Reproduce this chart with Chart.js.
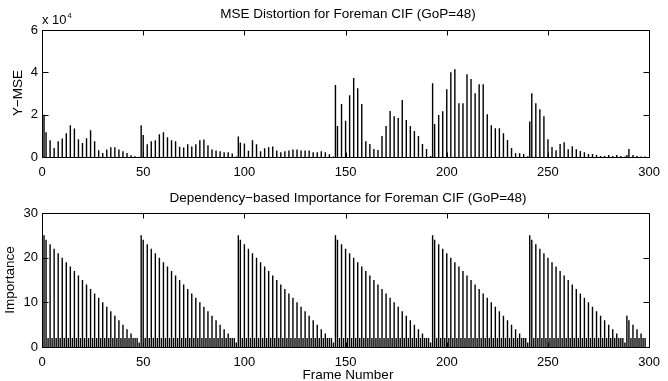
<!DOCTYPE html>
<html>
<head>
<meta charset="utf-8">
<script src="https://cdn.jsdelivr.net/npm/chart.js@4.4.0/dist/chart.umd.min.js"></script>
<style>
  body { margin: 0; background: #fff; }
  #wrap { position: relative; width: 668px; height: 381px; overflow: hidden;
          font-family: "Liberation Sans", Arial, Helvetica, sans-serif; color: #000; }
  canvas { position: absolute; left: 0; }
  .lbl { position: absolute; white-space: nowrap; line-height: 1; font-size: 13.5px;
         transform: translate(-50%, -50%); }
  .rot { transform: translate(-50%, -50%) rotate(-90deg); }
</style>
</head>
<body>
<div id="wrap">
  <canvas id="mse" width="668" height="185" style="top:0;width:668px;height:185px"></canvas>
  <canvas id="imp" width="668" height="196" style="top:185px;width:668px;height:196px"></canvas>

  <div class="lbl" style="left:348px;top:14px">MSE Distortion for Foreman CIF (GoP=48)</div>
  <div class="lbl" style="left:348px;top:198px">Dependency&minus;based Importance for Foreman CIF (GoP=48)</div>
  <div class="lbl" style="left:348px;top:375px">Frame Number</div>
  <div class="lbl rot" style="left:18px;top:93px">Y&minus;MSE</div>
  <div class="lbl rot" style="left:10px;top:280px">Importance</div>
  <div style="position:absolute;left:42px;top:13px;font-size:13px;line-height:1">x 10<span style="font-size:7.5px;position:relative;top:-6px;left:1px">4</span></div>
</div>

<script>
// frame axis
const frameTicks = [0, 50, 100, 150, 200, 250, 300];
const lastFrame = 298;

// first frame of every group of pictures (I frames)
const gopStarts = [1, 49, 97, 145, 193, 241, 289];

// Y-MSE of the I frames, same order as gopStarts
const mseI = [20000, 15000, 9700, 34000, 34900, 16800, 900];

// Y-MSE of the P frames 2, 4, 6 ... 298
const mseP = [
  11700, 7900, 4300, 7400, 8700, 11200, 15000, 13500, 8400, 6600, 8800, 12600,
  7400, 3200, 1900, 3600, 4600, 4600, 3600, 2700, 1900, 800, 400, 100,
  10400, 6000, 7400, 7900, 10700, 11700, 9300, 7900, 7400, 4900, 4500, 6000,
  5000, 6000, 7900, 8300, 5500, 3600, 3100, 2700, 2200, 2200, 1700, 200,
  6900, 6400, 3000, 7900, 6000, 2700, 4100, 4600, 5000, 3100, 2200, 2700,
  3100, 3600, 3600, 3100, 3100, 3100, 2200, 2200, 2700, 2200, 1300, 200,
  14600, 25000, 17100, 29200, 37300, 32500, 25000, 7500, 6100, 3800, 3300, 9900,
  14600, 21700, 19300, 18400, 26900, 17500, 14600, 12300, 9900, 6100, 3800, 500,
  15600, 19800, 21600, 32000, 40000, 41500, 25400, 25400, 39100, 36800, 30100, 34400,
  34400, 20200, 15000, 13600, 13600, 11200, 8000, 4200, 1800, 1800, 1400, 300,
  30100, 25400, 22600, 19300, 8400, 4700, 3200, 6100, 7000, 3700, 5100, 3700,
  2800, 2300, 1400, 1400, 900, 500, 500, 900, 500, 900, 500, 200,
  3800, 900, 500, 200, 200
];
const mseTicks = [0, 20000, 40000, 60000];

// dependency count: I frame, P frames in order, B frames
const impI = 25;
const impP = [24, 23, 22, 21, 20, 19, 18, 17, 16, 15, 14, 13,
              12, 11, 10, 9, 8, 7, 6, 5, 4, 3, 2, 1];
const impB = 2;
// the last, shorter group
const impLastI = 7;
const impLastP = [6, 5, 4, 3, 2];
const impTicks = [0, 10, 20, 30];

const mseData = [];
gopStarts.forEach((f, i) => mseData.push({ x: f, y: mseI[i] }));
mseP.forEach((v, i) => mseData.push({ x: 2 + i * 2, y: v }));
mseData.sort((a, b) => a.x - b.x);

const impData = [];
gopStarts.forEach((start, g) => {
  const last = g === gopStarts.length - 1;
  const pVals = last ? impLastP : impP;
  impData.push({ x: start, y: last ? impLastI : impI });
  pVals.forEach((v, k) => {
    const f = start + 1 + k * 2;
    if (f <= lastFrame) impData.push({ x: f, y: v });
    if (f + 1 <= lastFrame && (k < pVals.length - 1)) impData.push({ x: f + 1, y: impB });
  });
});

const font = { family: 'Liberation Sans', size: 13 };

// matlab style frame: full box with inward ticks on every side
const boxTicks = {
  id: 'boxTicks',
  afterDatasetsDraw(chart) {
    const { ctx, chartArea: a, scales: { x, y } } = chart;
    const l = Math.round(a.left) + 0.5, r = Math.round(a.right) + 0.5;
    const t = Math.round(a.top) + 0.5, b = Math.round(a.bottom) + 0.5;
    ctx.save();
    ctx.strokeStyle = '#000';
    ctx.lineWidth = 1;
    ctx.beginPath();
    ctx.rect(l, t, r - l, b - t);
    x.ticks.forEach(tk => {
      const px = Math.round(x.getPixelForValue(tk.value)) + 0.5;
      ctx.moveTo(px, t); ctx.lineTo(px, t + 5);
      ctx.moveTo(px, b); ctx.lineTo(px, b - 5);
    });
    y.ticks.forEach(tk => {
      const py = Math.round(y.getPixelForValue(tk.value)) + 0.5;
      ctx.moveTo(l, py); ctx.lineTo(l + 6, py);
      ctx.moveTo(r, py); ctx.lineTo(r - 6, py);
    });
    ctx.stroke();
    ctx.restore();
  }
};

const stemChart = (id, data, yMax, yTicks, yLabel, pad, xHeight) => new Chart(document.getElementById(id), {
  type: 'bar',
  data: {
    datasets: [{
      data: data,
      backgroundColor: '#000',
      borderWidth: 0,
      inflateAmount: 0,
      barThickness: 1.4
    }]
  },
  options: {
    responsive: false,
    animation: false,
    devicePixelRatio: 1,
    layout: { padding: { top: pad, right: 15, left: 0, bottom: 0 } },
    plugins: { legend: { display: false }, tooltip: { enabled: false } },
    scales: {
      x: {
        type: 'linear',
        min: 0,
        max: 300,
        offset: false,
        grid: { display: false, drawTicks: false, offset: false },
        border: { display: false },
        afterBuildTicks: s => { s.ticks = frameTicks.map(v => ({ value: v })); },
        ticks: { font: font, color: '#000', padding: 8, maxRotation: 0, autoSkip: false },
        afterFit: s => { s.height = xHeight; }
      },
      y: {
        min: 0,
        max: yMax,
        grid: { display: false, drawTicks: false },
        border: { display: false },
        afterBuildTicks: s => { s.ticks = yTicks.map(v => ({ value: v })); },
        ticks: { font: font, color: '#000', padding: 4, callback: yLabel },
        afterFit: s => { s.width = 42; }
      }
    }
  },
  plugins: [boxTicks]
});

stemChart('mse', mseData, 60000, mseTicks, v => v / 10000, 30, 28);
stemChart('imp', impData, 30, impTicks, v => v, 28, 34);
</script>
</body>
</html>
